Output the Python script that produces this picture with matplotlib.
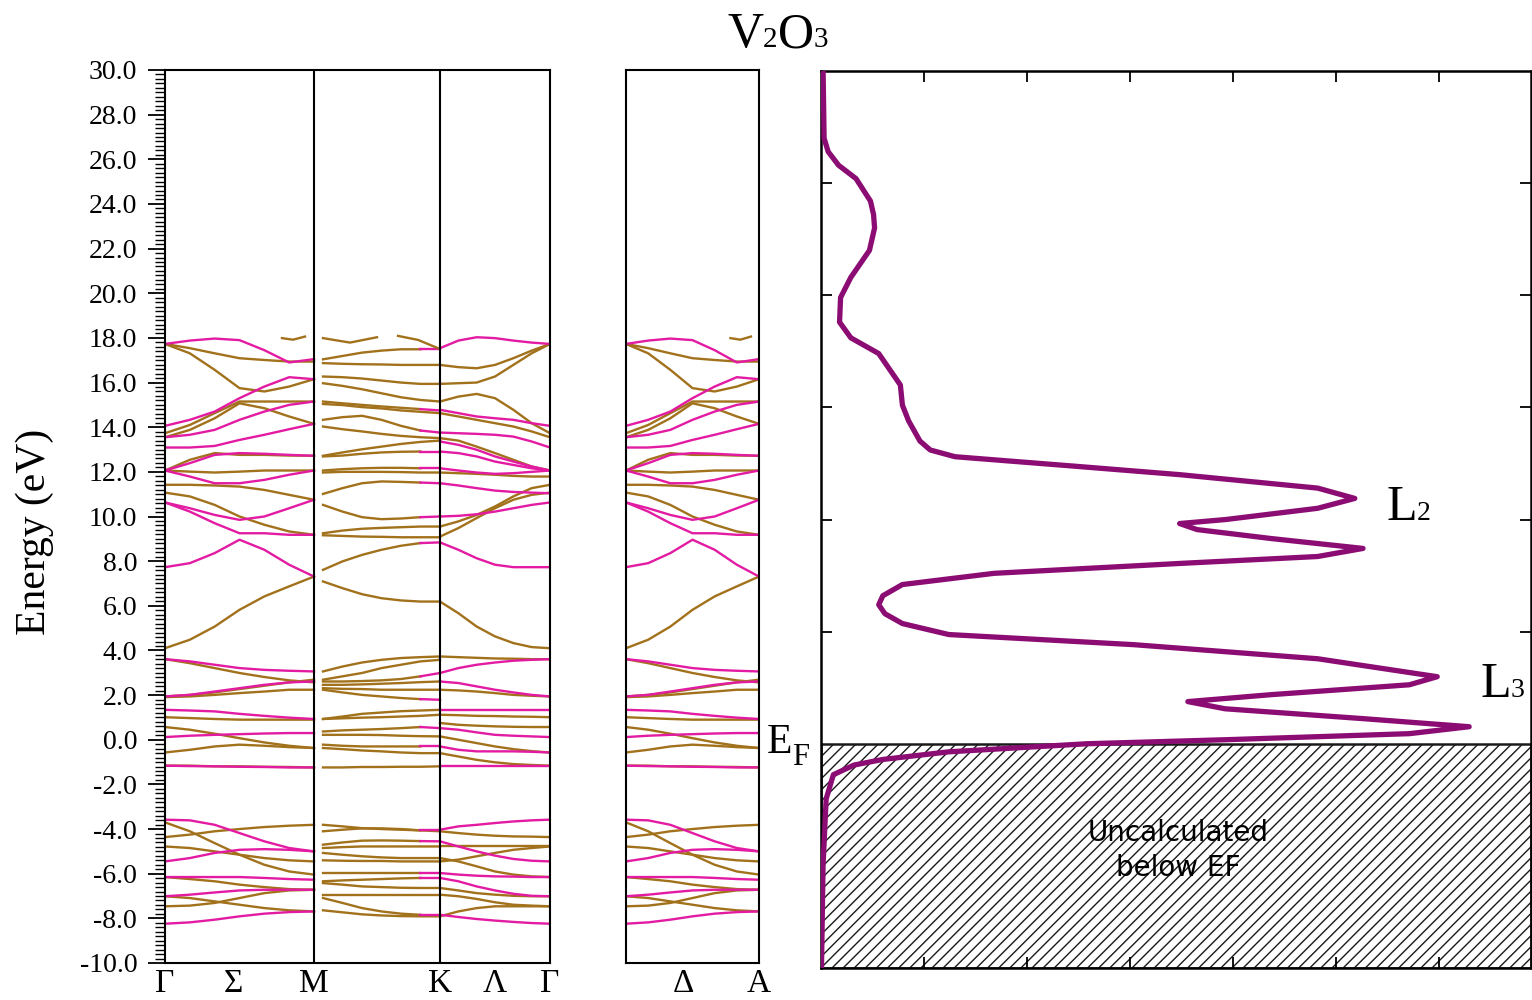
import numpy as np
import matplotlib
matplotlib.use("Agg")
import matplotlib.pyplot as plt
from matplotlib.ticker import MultipleLocator

plt.rcParams['font.family'] = ['Liberation Serif', 'DejaVu Serif']
plt.rcParams['hatch.linewidth'] = 1.0

PINK = '#E31BA3'
BROWN = '#A2711C'
PURPLE = '#8B0C72'

# ---- band structure data (eV), 7 samples along each segment ----
# Gamma -> M   (also reused for the Gamma -> A panel, which looks identical)
gm_pink = [
    [17.73, 17.88, 17.97, 17.90, 17.45, 16.90, 17.05],
    [14.06, 14.33, 14.70, 15.30, 15.82, 16.24, 16.15],
    [13.55, 13.66, 13.88, 14.33, 14.70, 15.00, 15.15],
    [13.09, 13.09, 13.16, 13.43, 13.66, 13.91, 14.15],
    [12.06, 12.39, 12.76, 12.84, 12.81, 12.76, 12.72],
    [12.06, 11.79, 11.49, 11.49, 11.64, 11.87, 12.06],
    [10.63, 10.37, 10.07, 9.85, 10.00, 10.37, 10.75],
    [10.63, 10.22, 9.70, 9.25, 9.25, 9.18, 9.18],
    [7.73, 7.91, 8.36, 8.96, 8.51, 7.84, 7.31],
    [3.61, 3.51, 3.36, 3.21, 3.13, 3.09, 3.06],
    [1.94, 2.01, 2.16, 2.31, 2.46, 2.57, 2.61],
    [1.34, 1.31, 1.27, 1.16, 1.07, 0.99, 0.93],
    [0.12, 0.18, 0.22, 0.25, 0.28, 0.30, 0.30],
    [-1.16, -1.18, -1.19, -1.21, -1.22, -1.24, -1.24],
    [-3.58, -3.61, -3.81, -4.18, -4.55, -4.85, -5.00],
    [-5.45, -5.30, -5.07, -4.93, -4.90, -4.93, -5.00],
    [-6.15, -6.15, -6.15, -6.15, -6.19, -6.24, -6.27],
    [-7.01, -6.94, -6.84, -6.75, -6.72, -6.72, -6.72],
    [-8.24, -8.18, -8.06, -7.91, -7.79, -7.72, -7.69],
]
gm_brown = [
    [17.73, 17.54, 17.31, 17.09, 17.01, 16.94, 16.94],
    [17.73, 17.31, 16.57, 15.75, 15.60, 15.82, 16.15],
    [13.73, 14.10, 14.63, 15.15, 15.15, 15.15, 15.15],
    [13.55, 13.88, 14.40, 15.07, 14.85, 14.48, 14.15],
    [12.06, 12.54, 12.84, 12.76, 12.76, 12.73, 12.72],
    [12.06, 12.01, 11.97, 12.01, 12.06, 12.06, 12.06],
    [11.42, 11.42, 11.39, 11.34, 11.19, 10.97, 10.75],
    [11.07, 10.90, 10.52, 10.00, 9.63, 9.33, 9.18],
    [4.10, 4.48, 5.07, 5.82, 6.42, 6.87, 7.31],
    [3.61, 3.43, 3.21, 2.99, 2.81, 2.66, 2.57],
    [1.94, 2.01, 2.12, 2.27, 2.42, 2.57, 2.69],
    [1.91, 1.94, 2.01, 2.09, 2.16, 2.24, 2.24],
    [1.01, 0.97, 0.93, 0.90, 0.90, 0.90, 0.90],
    [0.57, 0.45, 0.27, 0.07, -0.12, -0.27, -0.37],
    [-0.57, -0.45, -0.30, -0.22, -0.27, -0.33, -0.37],
    [-1.16, -1.16, -1.19, -1.19, -1.21, -1.22, -1.24],
    [-4.36, -4.25, -4.10, -4.00, -3.91, -3.85, -3.81],
    [-4.78, -4.85, -5.00, -5.15, -5.30, -5.40, -5.45],
    [-3.70, -4.10, -4.63, -5.15, -5.60, -5.90, -6.04],
    [-6.15, -6.24, -6.34, -6.49, -6.60, -6.69, -6.72],
    [-7.01, -7.09, -7.24, -7.39, -7.54, -7.64, -7.69],
    [-7.46, -7.43, -7.31, -7.09, -6.87, -6.75, -6.72],
]
gm_arc_k = [1.17, 1.28, 1.40]
gm_arc_e = [17.99, 17.92, 18.06]

# M -> K : brown bands, some turning pink just before K
mk_brown = [
    [16.87, 16.84, 16.82, 16.81, 16.79, 16.79, 16.79],
    [16.27, 16.24, 16.18, 16.09, 16.00, 15.94, 15.94],
    [15.97, 15.85, 15.70, 15.52, 15.34, 15.22, 15.15],
    [15.04, 14.99, 14.90, 14.84, 14.75, 14.69, 14.63],
    [14.03, 13.91, 13.81, 13.70, 13.61, 13.55, 13.51],
    [12.72, 12.87, 13.01, 13.13, 13.25, 13.34, 13.40],
    [11.97, 12.00, 12.00, 12.00, 11.99, 11.97, 11.97],
    [9.25, 9.37, 9.45, 9.49, 9.52, 9.55, 9.55],
    [9.16, 9.13, 9.10, 9.09, 9.07, 9.07, 9.07],
    [7.09, 6.79, 6.52, 6.34, 6.24, 6.19, 6.19],
    [3.06, 3.28, 3.46, 3.58, 3.66, 3.70, 3.73],
    [2.69, 2.84, 2.99, 3.21, 3.36, 3.51, 3.58],
    [2.46, 2.46, 2.48, 2.51, 2.54, 2.58, 2.61],
    [2.31, 2.28, 2.27, 2.24, 2.24, 2.24, 2.24],
    [0.93, 0.96, 0.99, 1.01, 1.04, 1.07, 1.12],
    [0.93, 1.04, 1.16, 1.22, 1.28, 1.31, 1.34],
    [0.22, 0.22, 0.22, 0.21, 0.18, 0.16, 0.15],
    [-0.37, -0.42, -0.48, -0.52, -0.57, -0.60, -0.60],
    [-1.24, -1.24, -1.22, -1.22, -1.21, -1.21, -1.19],
    [-4.10, -4.03, -3.97, -3.97, -4.00, -4.06, -4.10],
    [-4.85, -4.81, -4.78, -4.78, -4.78, -4.78, -4.78],
    [-5.07, -5.15, -5.22, -5.27, -5.30, -5.30, -5.30],
    [-5.40, -5.42, -5.43, -5.43, -5.45, -5.45, -5.45],
    [-6.42, -6.49, -6.57, -6.60, -6.63, -6.64, -6.64],
    [-6.94, -6.94, -6.94, -6.94, -6.94, -6.94, -6.94],
    [-7.64, -7.73, -7.82, -7.87, -7.90, -7.91, -7.91],
]
mk_pink_tip = [
    [17.04, 17.19, 17.34, 17.43, 17.49, 17.49, 17.49],
    [15.15, 15.07, 15.00, 14.93, 14.87, 14.81, 14.75],
    [14.33, 14.45, 14.51, 14.33, 14.06, 13.85, 13.76],
    [12.69, 12.73, 12.81, 12.87, 12.90, 12.91, 12.91],
    [12.06, 12.12, 12.16, 12.18, 12.18, 12.16, 12.16],
    [11.01, 11.27, 11.49, 11.57, 11.55, 11.52, 11.49],
    [10.52, 10.22, 9.97, 9.88, 9.91, 9.97, 10.00],
    [7.61, 7.99, 8.28, 8.51, 8.69, 8.81, 8.84],
    [2.61, 2.61, 2.63, 2.66, 2.72, 2.84, 2.99],
    [2.24, 2.12, 2.01, 1.94, 1.87, 1.82, 1.79],
    [0.37, 0.42, 0.45, 0.48, 0.52, 0.57, 0.52],
    [-0.22, -0.27, -0.30, -0.30, -0.30, -0.30, -0.30],
    [-3.81, -3.88, -3.96, -4.00, -4.03, -4.06, -4.06],
    [-4.70, -4.60, -4.52, -4.51, -4.52, -4.54, -4.55],
    [-5.97, -5.97, -5.97, -5.97, -5.97, -5.97, -5.97],
    [-6.34, -6.30, -6.27, -6.24, -6.21, -6.19, -6.19],
    [-7.09, -7.31, -7.54, -7.69, -7.79, -7.84, -7.84],
]
mk_arc1_k = [1.58, 1.85, 2.12]
mk_arc1_e = [17.99, 17.79, 18.03]
mk_arc2_k = [2.33, 2.53, 2.73]
mk_arc2_e = [18.09, 17.91, 17.54]

# K -> Gamma
kg_pink = [
    [17.54, 17.88, 18.03, 17.99, 17.88, 17.79, 17.73],
    [14.78, 14.63, 14.48, 14.40, 14.33, 14.18, 14.06],
    [13.76, 13.73, 13.70, 13.66, 13.58, 13.36, 13.09],
    [13.36, 13.21, 12.99, 12.69, 12.46, 12.24, 12.06],
    [12.91, 12.84, 12.69, 12.46, 12.31, 12.16, 12.06],
    [12.16, 12.06, 11.97, 11.91, 11.94, 12.00, 12.06],
    [11.49, 11.39, 11.27, 11.16, 11.10, 11.07, 11.04],
    [10.00, 10.03, 10.10, 10.22, 10.37, 10.52, 10.63],
    [8.84, 8.51, 8.13, 7.84, 7.73, 7.73, 7.73],
    [2.99, 3.21, 3.36, 3.46, 3.54, 3.58, 3.61],
    [2.61, 2.54, 2.39, 2.24, 2.12, 2.01, 1.94],
    [1.34, 1.34, 1.34, 1.34, 1.34, 1.34, 1.34],
    [0.52, 0.45, 0.33, 0.22, 0.18, 0.15, 0.12],
    [-0.30, -0.45, -0.52, -0.52, -0.52, -0.54, -0.57],
    [-1.19, -1.19, -1.19, -1.19, -1.19, -1.19, -1.19],
    [-4.03, -3.88, -3.81, -3.73, -3.66, -3.61, -3.58],
    [-4.55, -4.78, -5.00, -5.19, -5.34, -5.42, -5.45],
    [-5.97, -6.04, -6.09, -6.12, -6.13, -6.15, -6.15],
    [-6.19, -6.34, -6.57, -6.75, -6.90, -6.99, -7.01],
    [-7.84, -7.94, -8.03, -8.10, -8.16, -8.21, -8.24],
]
kg_brown = [
    [16.79, 16.69, 16.64, 16.79, 17.09, 17.43, 17.73],
    [15.94, 15.97, 16.00, 16.27, 16.79, 17.31, 17.73],
    [15.15, 15.37, 15.49, 15.30, 14.78, 14.18, 13.73],
    [14.63, 14.48, 14.33, 14.18, 14.03, 13.81, 13.55],
    [13.51, 13.40, 13.13, 12.84, 12.54, 12.24, 12.06],
    [11.97, 11.94, 11.91, 11.87, 11.82, 11.79, 11.79],
    [9.55, 9.78, 10.07, 10.45, 10.90, 11.27, 11.42],
    [9.10, 9.48, 9.93, 10.37, 10.75, 10.97, 11.07],
    [6.19, 5.67, 5.07, 4.63, 4.33, 4.15, 4.10],
    [3.73, 3.70, 3.67, 3.64, 3.63, 3.61, 3.61],
    [2.24, 2.21, 2.16, 2.09, 2.01, 1.97, 1.94],
    [1.12, 1.10, 1.07, 1.06, 1.04, 1.03, 1.01],
    [0.75, 0.67, 0.63, 0.60, 0.58, 0.57, 0.57],
    [0.15, 0.00, -0.15, -0.30, -0.42, -0.51, -0.57],
    [-0.60, -0.75, -0.90, -1.01, -1.09, -1.13, -1.16],
    [-4.10, -4.18, -4.25, -4.30, -4.33, -4.34, -4.36],
    [-4.78, -4.78, -4.78, -4.78, -4.78, -4.78, -4.78],
    [-5.30, -5.45, -5.67, -5.90, -6.04, -6.12, -6.15],
    [-5.45, -5.37, -5.22, -5.07, -4.93, -4.85, -4.78],
    [-6.64, -6.75, -6.87, -6.94, -6.99, -7.01, -7.01],
    [-6.94, -7.01, -7.13, -7.28, -7.39, -7.43, -7.46],
    [-7.91, -7.69, -7.54, -7.46, -7.46, -7.46, -7.46],
]

# high-symmetry points (k distance) and labels
kpath_pos = [0.0, 0.68, 1.49, 2.75, 3.30, 3.85]
kpath_lbl = ['Γ', 'Σ', 'M', 'K', 'Λ', 'Γ']
ga_pos = [0.43, 1.0]
ga_lbl = ['Δ', 'A']

# ---- V L2,3 edge spectrum (energy eV, intensity arb.) ----
xas_energy = [30.1, 27.0, 26.4, 25.8, 25.2, 24.2, 23.6, 23.0, 22.0, 20.8, 19.9,
              18.8, 18.1, 17.4, 16.6, 16.0, 15.1, 14.4, 13.5, 13.1, 12.8, 12.4,
              12.0, 11.4, 10.94, 10.5, 10.0, 9.82, 9.55, 9.15, 8.71, 8.35, 8.04,
              7.6, 7.1, 6.6, 6.2, 5.8, 5.36, 4.87, 4.42, 3.79, 2.99, 2.63, 2.19,
              1.88, 1.56, 1.12, 0.76, 0.45, 0.18, 0.0, -0.36, -0.70, -0.95,
              -1.38, -2.46, -5.4, -9.9]
xas_intensity = [0.02, 0.03, 0.07, 0.17, 0.34, 0.48, 0.51, 0.52, 0.47, 0.29, 0.19,
                 0.18, 0.29, 0.56, 0.68, 0.77, 0.79, 0.85, 0.96, 1.06, 1.30, 2.40,
                 3.48, 4.82, 5.18, 4.82, 3.93, 3.48, 3.65, 4.37, 5.26, 4.82, 3.48,
                 1.68, 0.79, 0.60, 0.56, 0.62, 0.79, 1.24, 3.03, 4.82, 5.98, 5.71,
                 4.37, 3.56, 3.92, 5.26, 6.29, 5.71, 3.93, 2.58, 1.24, 0.60, 0.32,
                 0.12, 0.05, 0.02, 0.005]

W, H = 1532, 1000
fig = plt.figure(figsize=(W / 100, H / 100), dpi=100)

gm_k = np.linspace(0.0, 1.49, 7)
mk_k = np.linspace(1.58, 2.75, 7)
kg_k = np.linspace(2.75, 3.85, 7)
LW = 1.7


def draw(ax, k, bands, color):
    for e in bands:
        ax.plot(k, e, color=color, lw=LW)


def style_band_axis(ax):
    for s in ax.spines.values():
        s.set_linewidth(1.5)
    ax.set_ylim(-10, 30)
    ax.tick_params(axis='x', length=0, labelsize=24, pad=4)


# ---- panel 1: Gamma-M-K-Gamma ----
ax1 = fig.add_axes([165 / W, 37 / H, 385 / W, 893 / H])
draw(ax1, gm_k, gm_brown, BROWN)
draw(ax1, gm_k, gm_pink, PINK)
ax1.plot(gm_arc_k, gm_arc_e, color=BROWN, lw=LW)
draw(ax1, mk_k, mk_brown, BROWN)
for e in mk_pink_tip:
    ax1.plot(mk_k[:6], e[:6], color=BROWN, lw=LW)
    ax1.plot(mk_k[5:], e[5:], color=PINK, lw=LW)
ax1.plot(mk_arc1_k, mk_arc1_e, color=BROWN, lw=LW)
ax1.plot(mk_arc2_k, mk_arc2_e, color=BROWN, lw=LW)
draw(ax1, kg_k, kg_brown, BROWN)
draw(ax1, kg_k, kg_pink, PINK)
for xv in (kpath_pos[2], kpath_pos[3]):
    ax1.axvline(xv, color='black', lw=1.5)
ax1.set_xlim(0, 3.85)
style_band_axis(ax1)
ax1.set_xticks(kpath_pos)
ax1.set_xticklabels(kpath_lbl)
ax1.yaxis.set_major_locator(MultipleLocator(2))
ax1.yaxis.set_minor_locator(MultipleLocator(0.2))
ax1.yaxis.set_major_formatter(matplotlib.ticker.FormatStrFormatter('%.1f'))
ax1.tick_params(axis='y', which='major', length=12, width=1.3, labelsize=20, pad=8)
ax1.tick_params(axis='y', which='minor', length=7, width=1.0)
ax1.set_ylabel('Energy (eV)', fontsize=30)
ax1.yaxis.set_label_coords(-0.288, 0.483)

# ---- panel 2: Gamma-A ----
ax2 = fig.add_axes([626 / W, 37 / H, 133 / W, 893 / H])
ga_k = gm_k / gm_k[-1]
draw(ax2, ga_k, gm_brown, BROWN)
draw(ax2, ga_k, gm_pink, PINK)
ax2.plot(np.array(gm_arc_k) / gm_k[-1], gm_arc_e, color=BROWN, lw=LW)
ax2.set_xlim(0, 1)
style_band_axis(ax2)
ax2.set_yticks([])
ax2.set_xticks(ga_pos)
ax2.set_xticklabels(ga_lbl)

# ---- panel 3: spectrum ----
ax3 = fig.add_axes([821 / W, 32 / H, 710 / W, 897 / H])
ax3.axhspan(-10, 0, facecolor='white', edgecolor='#1a1a1a', hatch='///', lw=1.8, zorder=1)
ax3.plot(xas_intensity, xas_energy, color=PURPLE, lw=3.8, zorder=3,
         solid_joinstyle='round')
ax3.set_xlim(0, 6.89)
ax3.set_ylim(-10, 30)
ax3.set_xticks(np.arange(1, 7))
ax3.set_yticks([5, 10, 15, 20, 25])
ax3.tick_params(direction='in', top=True, right=True, length=8, width=1.3,
                labelbottom=False, labelleft=False)
for s in ax3.spines.values():
    s.set_linewidth(1.8)
ax3.text(3.47, -4.75, 'Uncalculated\nbelow EF', ha='center', va='center',
         fontsize=20, linespacing=1.3, zorder=4,
         family=['Liberation Sans Narrow', 'DejaVu Sans'])


def baseline_text(x_px, y_px, pieces):
    renderer = fig.canvas.get_renderer()
    x = x_px
    for s, size, dy in pieces:
        t = fig.text(x / W, 1 - (y_px + dy) / H, s, fontsize=size,
                     ha='left', va='baseline')
        x += t.get_window_extent(renderer).width


baseline_text(727, 47, [('V', 36, 0), ('2', 21, 0), ('O', 36, 0), ('3', 21, 0)])
baseline_text(1386, 520, [('L', 36, 0), ('2', 20, 0)])
baseline_text(1480, 697, [('L', 36, 0), ('3', 20, 0)])
baseline_text(767, 753, [('E', 30, 0), ('F', 22, 12)])

fig.savefig('out.png', dpi=100)
